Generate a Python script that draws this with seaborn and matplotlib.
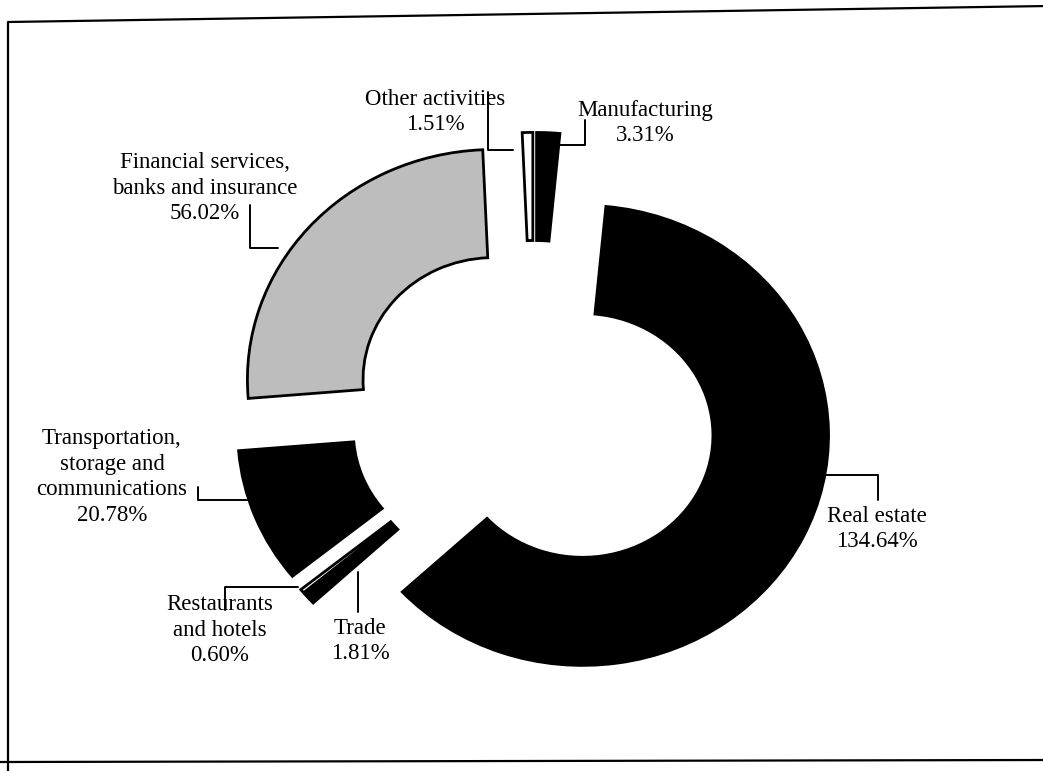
import matplotlib
matplotlib.use("Agg")
import matplotlib.pyplot as plt
import seaborn as sns

# donut data, clockwise from 12 o'clock
sectors = ['Manufacturing', 'Real estate', 'Trade', 'Restaurants and hotels',
           'Transportation, storage and communications',
           'Financial services, banks and insurance', 'Other activities']
shares = [3.31, 134.64, 1.81, 0.60, 20.78, 56.02, 1.51]
fills = ['black', 'black', 'black', 'white', 'black', '#bdbdbd', 'white']

label_text = {
    'Manufacturing': 'Manufacturing\n3.31%',
    'Real estate': 'Real estate\n134.64%',
    'Trade': 'Trade\n1.81%',
    'Restaurants and hotels': 'Restaurants\nand hotels\n0.60%',
    'Transportation, storage and communications': 'Transportation,\nstorage and\ncommunications\n20.78%',
    'Financial services, banks and insurance': 'Financial services,\nbanks and insurance\n56.02%',
    'Other activities': 'Other activities\n1.51%',
}

sns.set_theme(style='white')
plt.rcParams['font.family'] = ['Liberation Serif', 'DejaVu Serif']

W, H = 1043, 771
fig = plt.figure(figsize=(W / 100, H / 100), dpi=100)

# pie axes: unit radius = 246 px across, 230 px down (scan is a bit stretched)
cx, cy = 534, 413
rx, ry = 246, 230
ax = fig.add_axes([0, 0, 1, 1])
ax.pie(shares, colors=fills, startangle=90, counterclock=False,
       explode=[0.22] * len(shares),
       wedgeprops=dict(width=0.47, edgecolor='black', linewidth=2))
ax.set_aspect('auto')
ax.set_xlim(-cx / rx, (W - cx) / rx)
ax.set_ylim(-(H - cy) / ry, cy / ry)
ax.axis('off')

# overlay in pixel coords for labels, leaders and the frame
ov = fig.add_axes([0, 0, 1, 1])
ov.set_xlim(0, W)
ov.set_ylim(H, 0)
ov.axis('off')
ov.patch.set_alpha(0)

pos = {
    'Manufacturing': (645, 123),
    'Real estate': (877, 529),
    'Trade': (360, 641),
    'Restaurants and hotels': (220, 630),
    'Transportation, storage and communications': (112, 477),
    'Financial services, banks and insurance': (205, 188),
    'Other activities': (435, 112),
}
for s in sectors:
    x, y = pos[s]
    ov.text(x, y, label_text[s], ha='center', va='center', fontsize=16.5,
            linespacing=1.3, color='black')

leaders = [
    ([488, 488, 513], [92, 150, 150]),
    ([560, 585, 585], [145, 145, 120]),
    ([250, 250, 278], [205, 248, 248]),
    ([198, 198, 256], [487, 500, 500]),
    ([822, 878, 878], [475, 475, 500]),
    ([225, 225, 298], [610, 587, 587]),
    ([358, 358], [572, 612]),
]
for xs, ys in leaders:
    ov.plot(xs, ys, color='black', lw=1.4)

# scanned page frame
ov.plot([8, 8, W + 5], [H + 5, 22, 6], color='black', lw=1.6)
ov.plot([0, W + 5], [762, 760], color='black', lw=1.6)

fig.savefig('out.png', dpi=100)
